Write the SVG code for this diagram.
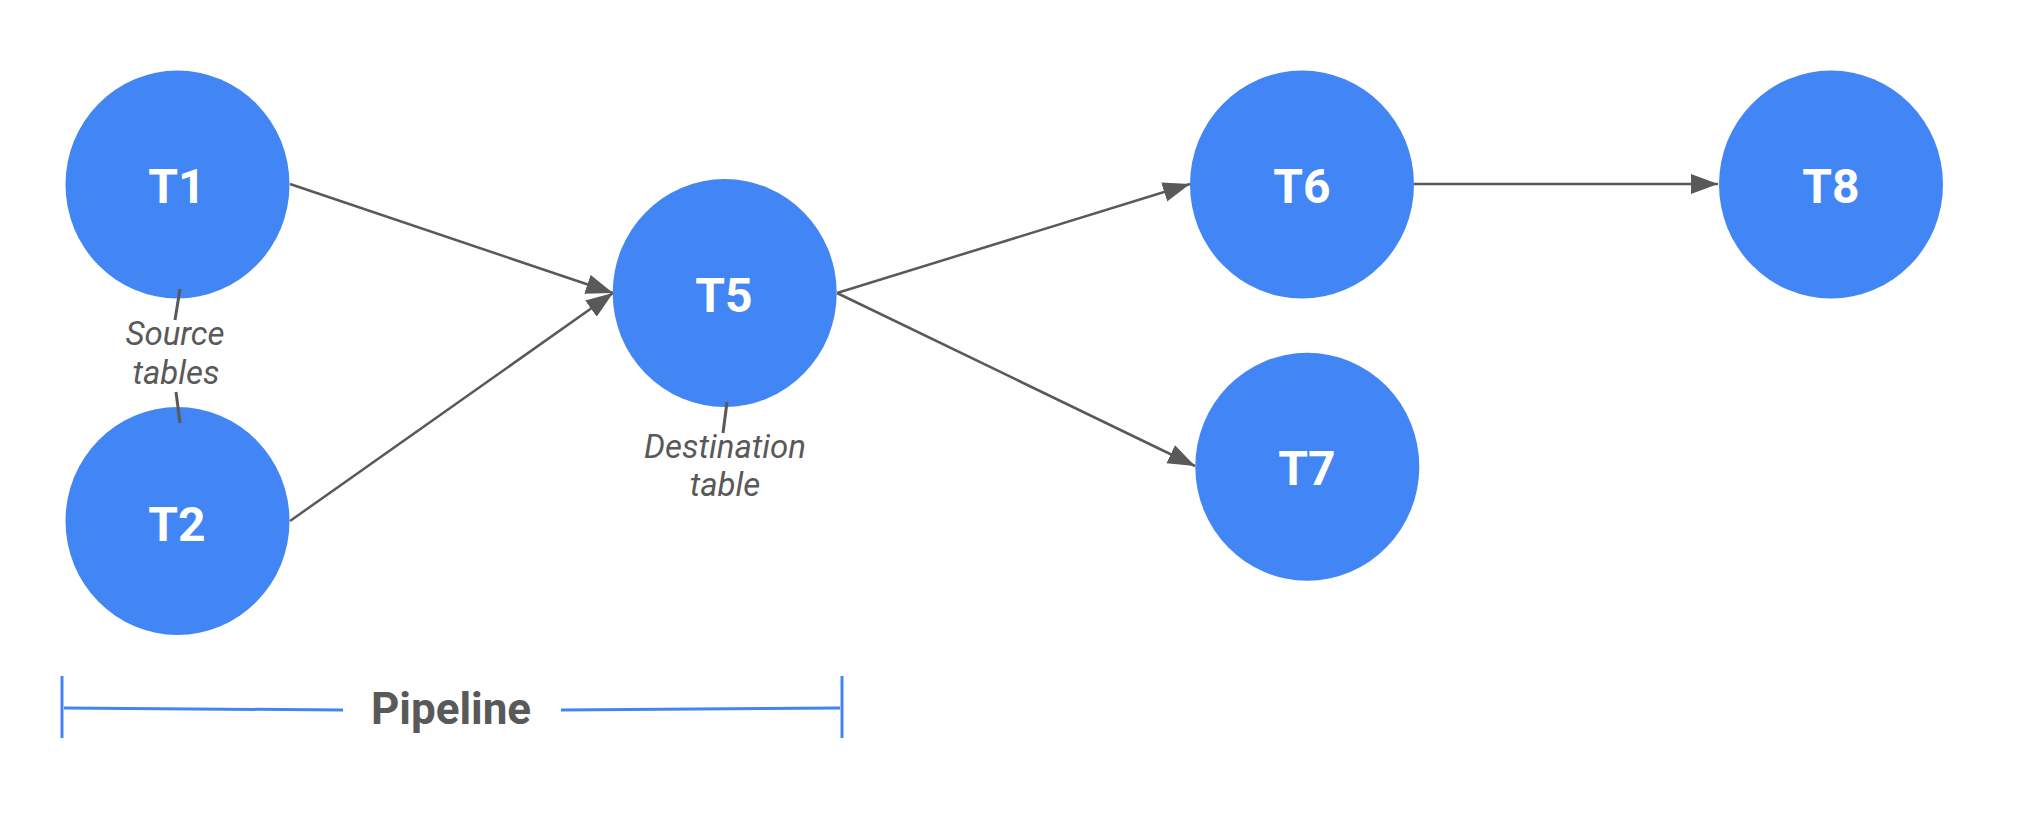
<svg xmlns="http://www.w3.org/2000/svg" width="2034" height="824" viewBox="0 0 2034 824">
<style>
.node{fill:#4285F4}
.nl{font-family:Roboto,"Liberation Sans",sans-serif;font-weight:700;font-size:48px;fill:#fff;text-anchor:middle}
.conn{stroke:#595959;stroke-width:2.5;fill:none}
.ann{stroke:#595959;stroke-width:3;fill:none}
.at{font-family:Roboto,"Liberation Sans",sans-serif;font-style:italic;font-size:33px;fill:#595959;text-anchor:middle}
.br{stroke:#4285F4;stroke-width:3;fill:none}
.pl{font-family:Roboto,"Liberation Sans",sans-serif;font-weight:700;font-size:44px;fill:#595959;text-anchor:middle}
</style>
<defs>
<marker id="arr" markerUnits="userSpaceOnUse" markerWidth="30" markerHeight="22" refX="27" refY="10" orient="auto">
<path d="M0,0 L27,10 L0,20 z" fill="#595959"/>
</marker>
</defs>
<rect width="2034" height="824" fill="#fff"/>
<g id="connectors">
<line class="conn" x1="290" y1="184" x2="613" y2="293" marker-end="url(#arr)"/>
<line class="conn" x1="290" y1="521" x2="613" y2="293" marker-end="url(#arr)"/>
<line class="conn" x1="837" y1="293" x2="1190" y2="184" marker-end="url(#arr)"/>
<line class="conn" x1="837" y1="293" x2="1195" y2="466" marker-end="url(#arr)"/>
<line class="conn" x1="1414" y1="184" x2="1718" y2="184" marker-end="url(#arr)"/>
</g>
<g id="T1"><ellipse class="node" cx="177.5" cy="184.5" rx="112" ry="114"/><text class="nl" x="177" y="203">T1</text></g>
<g id="T2"><ellipse class="node" cx="177.5" cy="521" rx="112" ry="114"/><text class="nl" x="177" y="541">T2</text></g>
<g id="T5"><ellipse class="node" cx="724.7" cy="293" rx="112" ry="114"/><text class="nl" x="724" y="312">T5</text></g>
<g id="T6"><ellipse class="node" cx="1302" cy="184.5" rx="112" ry="114"/><text class="nl" x="1302" y="203">T6</text></g>
<g id="T7"><ellipse class="node" cx="1307.3" cy="466.7" rx="112" ry="114"/><text class="nl" x="1307" y="485">T7</text></g>
<g id="T8"><ellipse class="node" cx="1831" cy="184.5" rx="112" ry="114"/><text class="nl" x="1831" y="203">T8</text></g>
<g id="source-label">
<line class="ann" x1="180" y1="289" x2="175" y2="320"/>
<line class="ann" x1="176" y1="392" x2="180" y2="423"/>
<text class="at" x="175" y="345">Source</text>
<text class="at" x="176" y="384">tables</text>
</g>
<g id="destination-label">
<line class="ann" x1="727" y1="402" x2="723" y2="433"/>
<text class="at" x="725" y="458">Destination</text>
<text class="at" x="725" y="496">table</text>
</g>
<g id="pipeline">
<line class="br" x1="62" y1="676" x2="62" y2="738"/>
<line class="br" x1="842" y1="676" x2="842" y2="738"/>
<line class="br" x1="64" y1="708" x2="343" y2="710"/>
<line class="br" x1="561" y1="710" x2="840" y2="708"/>
<text class="pl" x="451" y="724">Pipeline</text>
</g>
</svg>
